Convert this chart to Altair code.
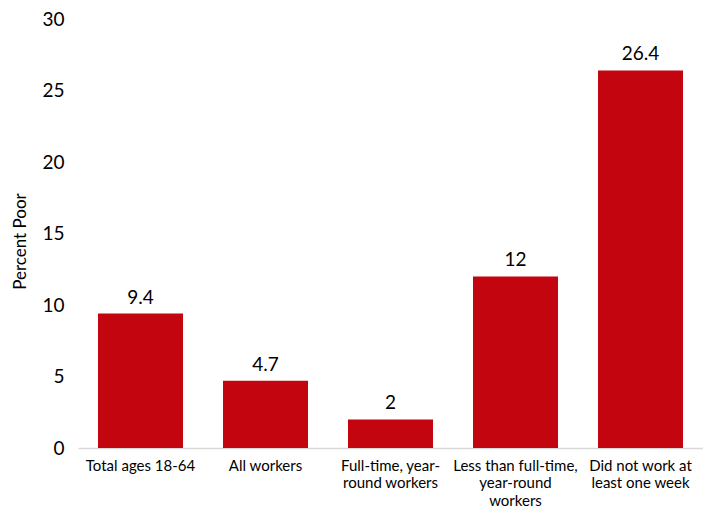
import altair as alt
import pandas as pd

categories = [
    "Total ages 18-64",
    "All workers",
    "Full-time, year-|round workers",
    "Less than full-time,|year-round|workers",
    "Did not work at|least one week",
]
values = [9.4, 4.7, 2, 12, 26.4]
labels = ["9.4", "4.7", "2", "12", "26.4"]

df = pd.DataFrame({"cat": categories, "val": values, "lab": labels})

FONT = "Lato"
RED = "#C3050F"

base = alt.Chart(df).encode(
    x=alt.X(
        "cat:N",
        sort=categories,
        title=None,
        scale=alt.Scale(paddingInner=0.32, paddingOuter=0.16),
        axis=alt.Axis(
            labelExpr="split(datum.label, '|')",
            labelAngle=0,
            labelFont=FONT,
            labelFontSize=15,
            labelColor="#000000",
            labelPadding=10,
            labelLineHeight=17.5,
            ticks=False,
            domainColor="#D9D9D9",
            domainWidth=1.5,
            labelLimit=200,
        ),
    ),
    y=alt.Y(
        "val:Q",
        title="Percent Poor",
        scale=alt.Scale(domain=[0, 30], nice=False),
        axis=alt.Axis(
            values=[0, 5, 10, 15, 20, 25, 30],
            grid=False,
            domain=False,
            ticks=False,
            labelFont=FONT,
            labelFontSize=19,
            labelColor="#000000",
            labelPadding=14,
            titleFont=FONT,
            titleFontSize=17,
            titleFontWeight="normal",
            titleColor="#000000",
            titlePadding=12,
            titleY=222,
        ),
    ),
)

bars = base.mark_bar(color=RED)
text = base.mark_text(
    baseline="bottom", dy=-6, font=FONT, fontSize=19, color="#000000"
).encode(text="lab:N")

chart = (
    (bars + text)
    .properties(
        width=625,
        height=429,
        autosize=alt.AutoSizeParams(type="none"),
        padding={"left": 70, "top": 11, "right": 0, "bottom": 61},
    )
    .configure_view(stroke=None)
)

chart.save("out.html", embed_options={"renderer": "svg", "actions": False})
